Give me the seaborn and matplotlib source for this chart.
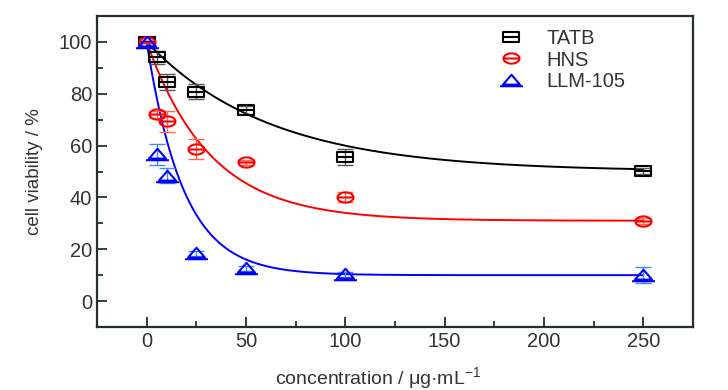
import numpy as np
import pandas as pd
import matplotlib
matplotlib.use("Agg")
import matplotlib.pyplot as plt
from matplotlib.path import Path
from matplotlib.lines import Line2D
import seaborn as sns

# ---- data ----
conc = [0, 5, 10, 25, 50, 100, 250]
tatb = [100, 94, 84.5, 80.8, 73.7, 55.6, 50.2]
tatb_err = [0.5, 2.5, 3, 3, 1.5, 3, 1]
hns = [100, 72, 69.4, 58.7, 53.5, 40.2, 30.9]
hns_err = [0.5, 1.5, 4, 4, 1, 2, 1]
llm = [100, 56.6, 48.4, 18.5, 12.6, 10.4, 10.0]
llm_err = [0.5, 4, 3, 1, 1, 1, 3]
series_names = ["TATB", "HNS", "LLM-105"]
# exponential-decay fit parameters (y0, A, t)
fit_y0 = [50, 31, 10]
fit_A = [50, 69, 90]
fit_t = [62, 32, 18.5]

xticks = [0, 50, 100, 150, 200, 250]
yticks = [0, 20, 40, 60, 80, 100]

sns.set_style("ticks")
plt.rcParams["font.family"] = ["Liberation Sans", "DejaVu Sans"]
plt.rcParams["mathtext.fontset"] = "custom"
plt.rcParams["mathtext.rm"] = "Liberation Sans"
plt.rcParams["mathtext.it"] = "Liberation Sans"

text_col = "#333333"
line_cols = ["#000000", "#ff0000", "#0000ff"]
err_cols = ["#555555", "#ff6a4d", "#3a8cff"]

# custom markers: wide square/ellipse with a horizontal bar, triangle with extended base
def sq_marker():
    v = [(-1, -0.6), (1, -0.6), (1, 0.6), (-1, 0.6), (-1, -0.6), (-1, 0), (1, 0)]
    c = [Path.MOVETO, Path.LINETO, Path.LINETO, Path.LINETO, Path.CLOSEPOLY, Path.MOVETO, Path.LINETO]
    return Path(v, c)

def circ_marker():
    th = np.linspace(0, 2 * np.pi, 60)
    v = list(zip(np.cos(th), 0.64 * np.sin(th)))
    c = [Path.MOVETO] + [Path.LINETO] * (len(v) - 1)
    v += [(-1, 0), (1, 0)]
    c += [Path.MOVETO, Path.LINETO]
    return Path(v, c)

def tri_marker():
    v = [(0, 0.5), (-0.74, -0.36), (0.74, -0.36), (0, 0.5), (-1, -0.5), (1, -0.5)]
    c = [Path.MOVETO, Path.LINETO, Path.LINETO, Path.CLOSEPOLY, Path.MOVETO, Path.LINETO]
    return Path(v, c)

markers = [sq_marker(), circ_marker(), tri_marker()]
msizes = [11.5, 11.5, 16.5]

fig = plt.figure(figsize=(7.28, 3.90), dpi=100)
ax = fig.add_axes([97 / 728, 1 - 327 / 390, (693 - 97) / 728, (327 - 16) / 390])

values = [tatb, hns, llm]
errs = [tatb_err, hns_err, llm_err]

xs = np.linspace(0, 250, 400)
for i in range(3):
    curve = pd.DataFrame({"x": xs, "y": fit_y0[i] + fit_A[i] * np.exp(-xs / fit_t[i])})
    sns.lineplot(data=curve, x="x", y="y", ax=ax, color=line_cols[i], lw=1.4, zorder=2)

for i in range(3):
    ax.errorbar(conc, values[i], yerr=errs[i], fmt="none", ecolor=err_cols[i],
                elinewidth=1.0, capsize=5.5, capthick=1.0, zorder=3)
    df = pd.DataFrame({"x": conc, "y": values[i]})
    ax.plot(df["x"], df["y"], ls="none", marker=markers[i], ms=msizes[i],
            mfc="none", mec=line_cols[i], mew=1.5, zorder=4)

ax.set_xlim(-25, 275)
ax.set_ylim(-10, 110)
ax.set_xticks(xticks)
ax.set_yticks(yticks)
ax.set_xticks([25, 75, 125, 175, 225], minor=True)
ax.set_yticks([-10, 10, 30, 50, 70, 90], minor=True)
ax.tick_params(axis="both", which="both", direction="in", top=False, right=False,
               labelsize=14.5, colors="#243030", labelcolor=text_col)
ax.tick_params(which="major", length=7, width=1.3)
ax.tick_params(which="minor", length=4, width=1.3)
for s in ax.spines.values():
    s.set_color("#243030")
    s.set_linewidth(1.6)

ax.set_xlabel("concentration / μg·mL$^{-1}$", fontsize=14, color=text_col)
ax.xaxis.set_label_coords((378 - 97) / 596, -(384 - 327) / 311)
ax.xaxis.label.set_va("baseline")
ax.set_ylabel("cell viability / %", fontsize=13.5, color=text_col, labelpad=11)

handles = [Line2D([], [], ls="none", marker=markers[i], ms=msizes[i], mfc="none",
                  mec=line_cols[i], mew=1.5) for i in range(3)]
leg = ax.legend(handles, series_names, loc="upper left",
                bbox_to_anchor=((481 - 97) / 596, 1 - (15 - 16) / 311),
                frameon=False, fontsize=14.5, handlelength=1.6, handletextpad=0.95,
                labelspacing=0.12, borderpad=0.2)
for t in leg.get_texts():
    t.set_color(text_col)

fig.savefig("out.png", dpi=100)
